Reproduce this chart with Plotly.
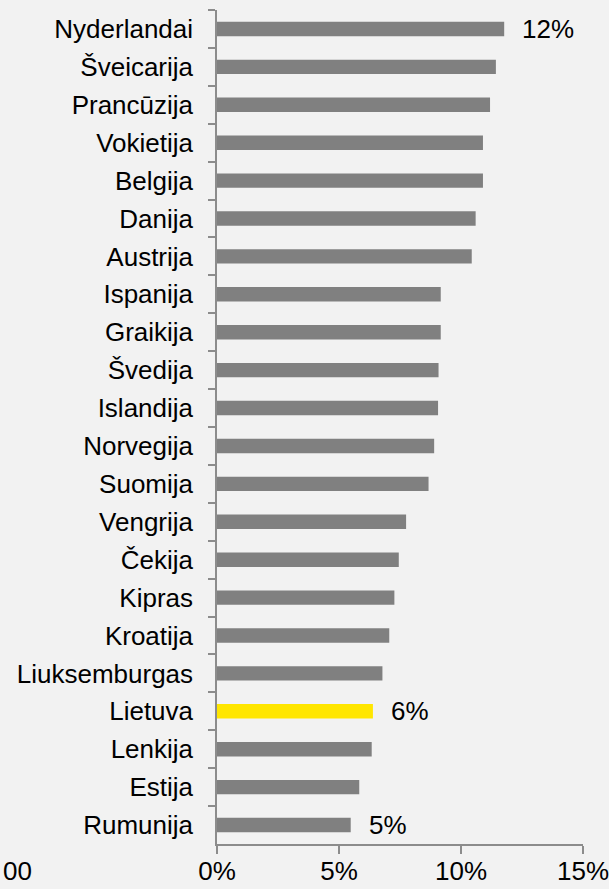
import plotly.graph_objects as go

categories = ["Nyderlandai", "Šveicarija", "Prancūzija", "Vokietija", "Belgija", "Danija",
              "Austrija", "Ispanija", "Graikija", "Švedija", "Islandija", "Norvegija",
              "Suomija", "Vengrija", "Čekija", "Kipras", "Kroatija", "Liuksemburgas",
              "Lietuva", "Lenkija", "Estija", "Rumunija"]
values = [11.77, 11.43, 11.19, 10.90, 10.90, 10.60, 10.44, 9.17, 9.17, 9.08, 9.06, 8.90,
          8.67, 7.75, 7.45, 7.27, 7.06, 6.78, 6.39, 6.34, 5.83, 5.48]
labels = ["12%", "", "", "", "", "", "", "", "", "", "", "", "", "", "", "", "", "",
          "6%", "", "", "5%"]
highlight = "Lietuva"
x_ticks = [0, 5, 10, 15]
x_tick_labels = ["0%", "5%", "10%", "15%"]

GREY = "#808080"
YELLOW = "#FFE600"
BG = "#F2F2F2"
AXIS = "#8C8C8C"
FONT = "Liberation Sans, Arial, sans-serif"
FS = 26

colors = [YELLOW if c == highlight else GREY for c in categories]

fig = go.Figure(go.Bar(
    x=values, y=categories, orientation="h",
    marker=dict(color=colors, line=dict(width=0)),
    hoverinfo="skip",
))

for c, v, t in zip(categories, values, labels):
    if t:
        fig.add_annotation(x=v, y=c, text=t, showarrow=False, xanchor="left",
                           xshift=16, font=dict(size=FS, color="black", family=FONT))

fig.add_annotation(x=0, y=0, xref="paper", yref="paper", text="00", showarrow=False,
                   xanchor="left", yanchor="middle", xshift=-216, yshift=-27,
                   font=dict(size=FS, color="black", family=FONT))

fig.update_layout(
    width=609, height=889,
    margin=dict(l=217, r=26, t=10, b=45, autoexpand=False),
    paper_bgcolor=BG, plot_bgcolor=BG,
    bargap=0.62,
    showlegend=False,
    font=dict(family=FONT, size=FS, color="black"),
)
fig.update_xaxes(range=[0, 15], tickvals=x_ticks, ticktext=x_tick_labels,
                 showgrid=False, zeroline=False, showline=True, linecolor=AXIS, linewidth=1.5,
                 ticks="outside", ticklen=8, tickcolor=AXIS, tickwidth=1.5,
                 ticklabelstandoff=-5, ticklabeloverflow="allow", automargin=False,
                 tickfont=dict(size=FS, color="black"))
fig.update_yaxes(autorange="reversed", type="category", tickson="boundaries",
                 showgrid=False, zeroline=False, showline=True, linecolor=AXIS, linewidth=1.5,
                 ticks="outside", ticklen=7, tickcolor=AXIS, tickwidth=1.5,
                 ticklabelstandoff=17, automargin=False,
                 tickfont=dict(size=FS, color="black"))

fig.write_html("out.html", config={"displayModeBar": False},
               post_script="document.body.style.margin='0';document.body.style.background='#F2F2F2';")
